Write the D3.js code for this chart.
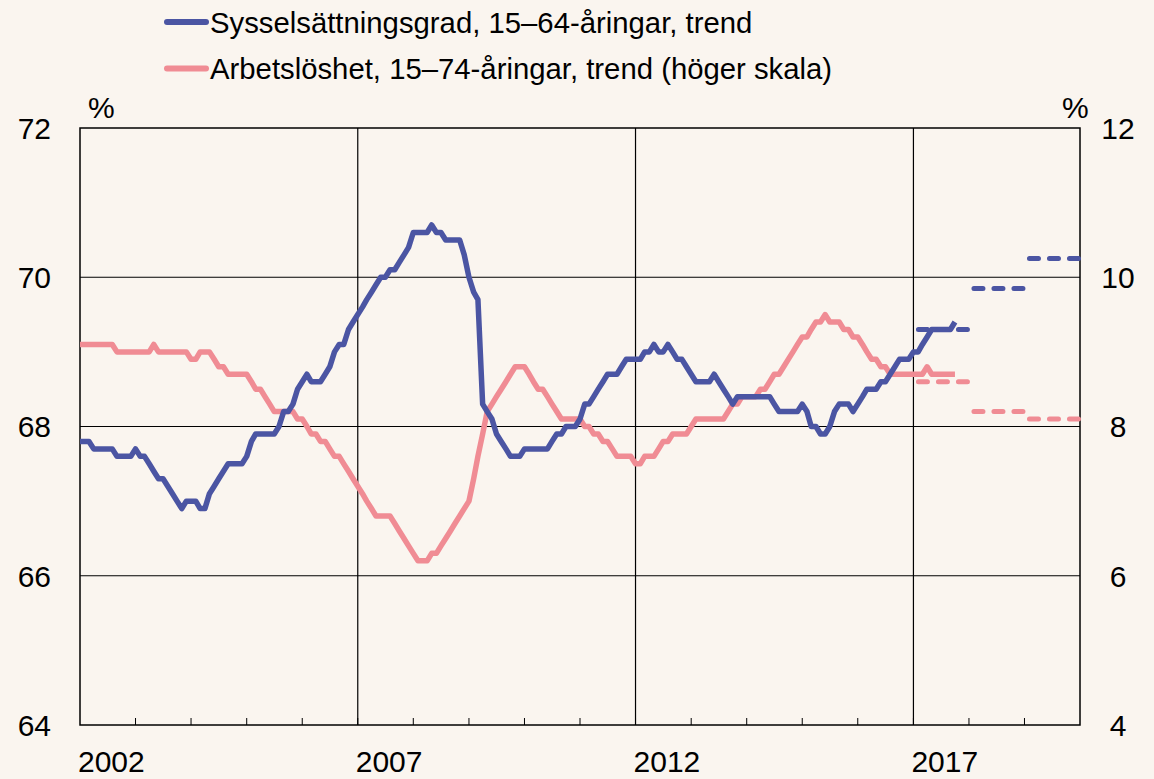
<!DOCTYPE html>
<html>
<head>
<meta charset="utf-8">
<script src="https://cdn.jsdelivr.net/npm/d3@7"></script>
<style>
  html, body { margin: 0; padding: 0; background: #faf5ef; }
  svg { display: block; font-family: "Liberation Sans", Arial, sans-serif; }
</style>
</head>
<body>
<svg id="chart"></svg>
<script>
// Monthly trend series, starting January 2002
const startYear = 2002;

// Sysselsättningsgrad 15-64 (left axis, %)
const employment = [
  67.8, 67.8, 67.8, 67.7, 67.7, 67.7, 67.7, 67.7, 67.6, 67.6,
  67.6, 67.6, 67.7, 67.6, 67.6, 67.5, 67.4, 67.3, 67.3, 67.2,
  67.1, 67.0, 66.9, 67.0, 67.0, 67.0, 66.9, 66.9, 67.1, 67.2,
  67.3, 67.4, 67.5, 67.5, 67.5, 67.5, 67.6, 67.8, 67.9, 67.9,
  67.9, 67.9, 67.9, 68.0, 68.2, 68.2, 68.3, 68.5, 68.6, 68.7,
  68.6, 68.6, 68.6, 68.7, 68.8, 69.0, 69.1, 69.1, 69.3, 69.4,
  69.5, 69.6, 69.7, 69.8, 69.9, 70.0, 70.0, 70.1, 70.1, 70.2,
  70.3, 70.4, 70.6, 70.6, 70.6, 70.6, 70.7, 70.6, 70.6, 70.5,
  70.5, 70.5, 70.5, 70.3, 70.0, 69.8, 69.7, 68.3, 68.2, 68.1,
  67.9, 67.8, 67.7, 67.6, 67.6, 67.6, 67.7, 67.7, 67.7, 67.7,
  67.7, 67.7, 67.8, 67.9, 67.9, 68.0, 68.0, 68.0, 68.1, 68.3,
  68.3, 68.4, 68.5, 68.6, 68.7, 68.7, 68.7, 68.8, 68.9, 68.9,
  68.9, 68.9, 69.0, 69.0, 69.1, 69.0, 69.0, 69.1, 69.0, 68.9,
  68.9, 68.8, 68.7, 68.6, 68.6, 68.6, 68.6, 68.7, 68.6, 68.5,
  68.4, 68.3, 68.4, 68.4, 68.4, 68.4, 68.4, 68.4, 68.4, 68.4,
  68.3, 68.2, 68.2, 68.2, 68.2, 68.2, 68.3, 68.2, 68.0, 68.0,
  67.9, 67.9, 68.0, 68.2, 68.3, 68.3, 68.3, 68.2, 68.3, 68.4,
  68.5, 68.5, 68.5, 68.6, 68.6, 68.7, 68.8, 68.9, 68.9, 68.9,
  69.0, 69.0, 69.1, 69.2, 69.3, 69.3, 69.3, 69.3, 69.3, 69.4
];

// Arbetslöshet 15-74 (right axis, %)
const unemployment = [
  9.1, 9.1, 9.1, 9.1, 9.1, 9.1, 9.1, 9.1, 9.0, 9.0,
  9.0, 9.0, 9.0, 9.0, 9.0, 9.0, 9.1, 9.0, 9.0, 9.0,
  9.0, 9.0, 9.0, 9.0, 8.9, 8.9, 9.0, 9.0, 9.0, 8.9,
  8.8, 8.8, 8.7, 8.7, 8.7, 8.7, 8.7, 8.6, 8.5, 8.5,
  8.4, 8.3, 8.2, 8.2, 8.2, 8.2, 8.2, 8.1, 8.1, 8.0,
  7.9, 7.9, 7.8, 7.8, 7.7, 7.6, 7.6, 7.5, 7.4, 7.3,
  7.2, 7.1, 7.0, 6.9, 6.8, 6.8, 6.8, 6.8, 6.7, 6.6,
  6.5, 6.4, 6.3, 6.2, 6.2, 6.2, 6.3, 6.3, 6.4, 6.5,
  6.6, 6.7, 6.8, 6.9, 7.0, 7.3, 7.6, 7.9, 8.2, 8.3,
  8.4, 8.5, 8.6, 8.7, 8.8, 8.8, 8.8, 8.7, 8.6, 8.5,
  8.5, 8.4, 8.3, 8.2, 8.1, 8.1, 8.1, 8.1, 8.1, 8.0,
  8.0, 7.9, 7.9, 7.8, 7.8, 7.7, 7.6, 7.6, 7.6, 7.6,
  7.5, 7.5, 7.6, 7.6, 7.6, 7.7, 7.8, 7.8, 7.9, 7.9,
  7.9, 7.9, 8.0, 8.1, 8.1, 8.1, 8.1, 8.1, 8.1, 8.1,
  8.2, 8.3, 8.3, 8.4, 8.4, 8.4, 8.4, 8.5, 8.5, 8.6,
  8.7, 8.7, 8.8, 8.9, 9.0, 9.1, 9.2, 9.2, 9.3, 9.4,
  9.4, 9.5, 9.4, 9.4, 9.4, 9.3, 9.3, 9.2, 9.2, 9.1,
  9.0, 8.9, 8.9, 8.8, 8.8, 8.7, 8.7, 8.7, 8.7, 8.7,
  8.7, 8.7, 8.7, 8.8, 8.7, 8.7, 8.7, 8.7, 8.7, 8.7
];

// Annual forecasts (dashed)
const forecastYears = [2017, 2018, 2019];
const employmentForecast = [69.3, 69.85, 70.25];
const unemploymentForecast = [8.6, 8.2, 8.1];

const leftTicks = [64, 66, 68, 70, 72];
const rightTicks = [4, 6, 8, 10, 12];
const gridYears = [2007, 2012, 2017];
const labelYears = [2002, 2007, 2012, 2017];

const legendLabels = [
  'Sysselsättningsgrad, 15–64-åringar, trend',
  'Arbetslöshet, 15–74-åringar, trend (höger skala)'
];

const BLUE = '#4b55a3';
const PINK = '#f08c94';

const width = 1154, height = 779;
const margin = { top: 128, right: 74, bottom: 54, left: 80 };

const svg = d3.select('#chart')
  .attr('width', width)
  .attr('height', height);

svg.append('rect').attr('width', width).attr('height', height).attr('fill', '#faf5ef');

const x = d3.scaleTime()
  .domain([new Date(2002, 0, 1), new Date(2020, 0, 1)])
  .range([margin.left, width - margin.right]);

const yLeft = d3.scaleLinear().domain([64, 72]).range([height - margin.bottom, margin.top]);
const yRight = d3.scaleLinear().domain([4, 12]).range([height - margin.bottom, margin.top]);

const x0 = margin.left, x1 = width - margin.right;
const y0 = margin.top, y1 = height - margin.bottom;

// horizontal gridlines
svg.append('g')
  .selectAll('line')
  .data(leftTicks.slice(1, -1))
  .join('line')
  .attr('x1', x0).attr('x2', x1)
  .attr('y1', d => yLeft(d)).attr('y2', d => yLeft(d))
  .attr('stroke', '#000').attr('stroke-width', 1.2);

// vertical gridlines
svg.append('g')
  .selectAll('line')
  .data(gridYears)
  .join('line')
  .attr('x1', d => x(new Date(d, 0, 1))).attr('x2', d => x(new Date(d, 0, 1)))
  .attr('y1', y0).attr('y2', y1)
  .attr('stroke', '#000').attr('stroke-width', 1.2);

// small year ticks on the bottom axis
svg.append('g')
  .selectAll('line')
  .data(d3.range(startYear + 1, 2020))
  .join('line')
  .attr('x1', d => x(new Date(d, 0, 1))).attr('x2', d => x(new Date(d, 0, 1)))
  .attr('y1', y1).attr('y2', y1 - 7)
  .attr('stroke', '#000').attr('stroke-width', 1);

// frame
svg.append('rect')
  .attr('x', x0).attr('y', y0)
  .attr('width', x1 - x0).attr('height', y1 - y0)
  .attr('fill', 'none').attr('stroke', '#000').attr('stroke-width', 1.5);

// series
const monthDate = i => new Date(startYear, i, 1);

const lineLeft = d3.line().x((d, i) => x(monthDate(i))).y(d => yLeft(d));
const lineRight = d3.line().x((d, i) => x(monthDate(i))).y(d => yRight(d));

svg.append('path')
  .datum(unemployment)
  .attr('d', lineRight)
  .attr('fill', 'none').attr('stroke', PINK)
  .attr('stroke-width', 5.5).attr('stroke-linejoin', 'round');

svg.append('path')
  .datum(employment)
  .attr('d', lineLeft)
  .attr('fill', 'none').attr('stroke', BLUE)
  .attr('stroke-width', 5.5).attr('stroke-linejoin', 'round');

// forecast dashes
function drawForecast(values, scale, color) {
  svg.append('g')
    .selectAll('line')
    .data(values)
    .join('line')
    .attr('x1', (d, i) => x(new Date(forecastYears[i], 0, 1)) + 5)
    .attr('x2', (d, i) => x(new Date(forecastYears[i] + 1, 0, 1)))
    .attr('y1', d => scale(d)).attr('y2', d => scale(d))
    .attr('stroke', color).attr('stroke-width', 5)
    .attr('stroke-linecap', 'round')
    .attr('stroke-dasharray', '9,11');
}
drawForecast(unemploymentForecast, yRight, PINK);
drawForecast(employmentForecast, yLeft, BLUE);

// axis labels
const fontSize = 30;

svg.append('g')
  .selectAll('text')
  .data(leftTicks)
  .join('text')
  .attr('x', 51).attr('y', d => yLeft(d))
  .attr('dy', '0.36em')
  .attr('text-anchor', 'end')
  .style('font-size', fontSize + 'px')
  .text(d => d);

svg.append('g')
  .selectAll('text')
  .data(rightTicks)
  .join('text')
  .attr('x', 1118).attr('y', d => yRight(d))
  .attr('dy', '0.36em')
  .attr('text-anchor', 'middle')
  .style('font-size', fontSize + 'px')
  .text(d => d);

svg.append('g')
  .selectAll('text')
  .data(labelYears)
  .join('text')
  .attr('x', d => x(new Date(d, 0, 1)) - 2)
  .attr('y', 772)
  .style('font-size', fontSize + 'px')
  .text(d => d);

svg.append('text').attr('x', 88).attr('y', 118)
  .style('font-size', fontSize + 'px').text('%');
svg.append('text').attr('x', 1062).attr('y', 118)
  .style('font-size', fontSize + 'px').text('%');

// legend
const legend = svg.append('g')
  .selectAll('g')
  .data(legendLabels)
  .join('g')
  .attr('transform', (d, i) => `translate(0,${22 + i * 46.5})`);

legend.append('line')
  .attr('x1', 167).attr('x2', 206)
  .attr('stroke', (d, i) => i === 0 ? BLUE : PINK)
  .attr('stroke-width', 6).attr('stroke-linecap', 'round');

legend.append('text')
  .attr('x', 210).attr('dy', '0.36em')
  .style('font-size', '29.3px')
  .text(d => d);
</script>
</body>
</html>
